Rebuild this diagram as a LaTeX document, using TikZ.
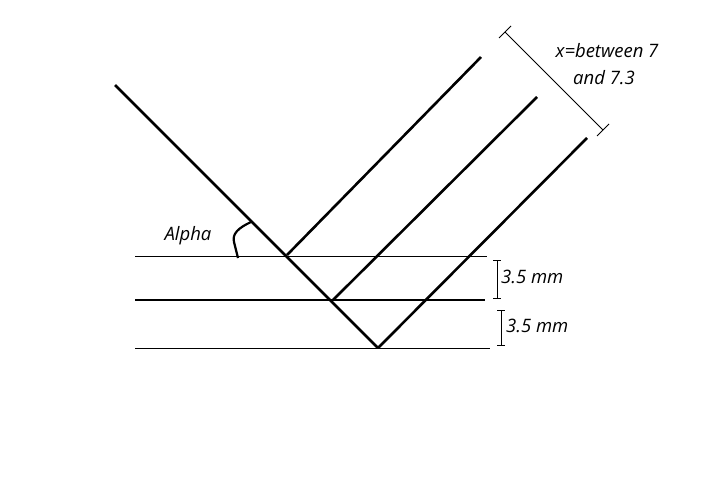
\documentclass[tikz,border=0pt]{standalone}
\usepackage{fontspec}
\setmainfont{Open Sans}
\begin{document}
\begin{tikzpicture}[x=1pt,y=-1pt,
  thick/.style={line width=2.6pt},
  thinl/.style={line width=0.8pt},
  lab/.style={font=\itshape\fontsize{18.5}{22}\selectfont,inner sep=0pt}]
\useasboundingbox (0,0) rectangle (719,491);
% horizontal lines
\coordinate (h1a) at (135,256); \coordinate (h1b) at (487,256);
\coordinate (h2a) at (135,300); \coordinate (h2b) at (485,300);
\coordinate (h3a) at (135,348); \coordinate (h3b) at (490,348);
\draw[thinl] (h1a) -- (h1b);
\draw[thick] (h2a) -- (h2b);
\draw[thinl] (h3a) -- (h3b);
% incident
\coordinate (i0) at (115,85); \coordinate (p1) at (287,255);
\coordinate (p2) at (333,300); \coordinate (p3) at (378,348);
\draw[thick] (i0) -- (p3);
% reflected
\coordinate (r1) at (481,57); \coordinate (r2) at (537,97); \coordinate (r3) at (587,138);
\draw[thick] (p1) -- (r1);
\draw[thick] (p2) -- (r2);
\draw[thick] (p3) -- (r3);
% x dimension
\coordinate (d1) at (505,32); \coordinate (d2) at (603,130);
\draw[thinl] (d1) -- (d2);
\draw[thinl] (499,38) -- (511,26);
\draw[thinl] (597,136) -- (609,124);
\node[lab] (xt1) at (607,51) {x=between 7};
\node[lab] (xt2) at (604,78) {and 7.3};
% 3.5 mm
\draw[thinl] (497,260) -- (497,298) (493,260) -- (501,260) (493,298) -- (501,298);
\node[lab,anchor=west] (m1) at (501,277) {3.5 mm};
\draw[thinl] (501,310) -- (501,345) (497,310) -- (505,310) (497,345) -- (505,345);
\node[lab,anchor=west] (m2) at (506,326) {3.5 mm};
% alpha
\node[lab] (al) at (188,236) {Alpha};
\draw[line width=2.2pt] (251,222) .. controls (238,228) and (232,234) .. (234,242) -- (238,258);
\end{tikzpicture}
\end{document}
